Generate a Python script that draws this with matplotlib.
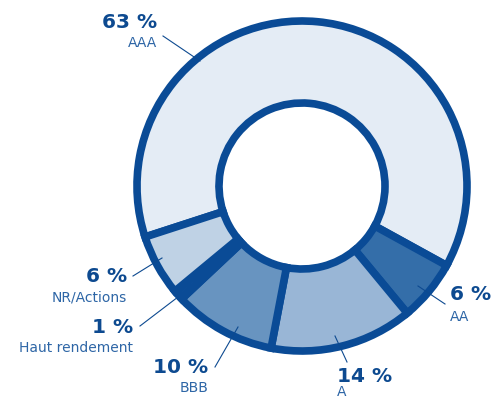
import matplotlib
matplotlib.use("Agg")
import matplotlib.pyplot as plt

plt.rcParams['font.family'] = ['DejaVu Sans']

categories = ['AAA', 'AA', 'A', 'BBB', 'Haut rendement', 'NR/Actions']
shares = [63, 6, 14, 10, 1, 6]
pct_labels = ['63 %', '6 %', '14 %', '10 %', '1 %', '6 %']
slice_colors = ['#e4ecf5', '#346ea9', '#99b6d6', '#6894c0', '#0b4c97', '#bfd2e5']

edge = '#0a4b96'
txt_dark = '#0d4a90'
txt_light = '#2e66a6'

fig = plt.figure(figsize=(4.92, 4.02), dpi=100)
ax = fig.add_axes([0, 0, 1, 1])

cx, cy, r_out, r_in = 302, -187, 165, 83
ax.pie(shares, colors=slice_colors, startangle=198, counterclock=False,
       center=(cx, cy), radius=r_out, frame=True,
       wedgeprops=dict(width=r_out - r_in, edgecolor=edge, linewidth=5.5, joinstyle='miter'))
ax.set_xlim(0, 492)
ax.set_ylim(-402, 0)
ax.set_aspect('equal')
ax.axis('off')

# label positions: (anchor x, pct y, name y, align, leader line)
label_pos = [
    (157, -23, -43, 'right', [(163, -37), (200, -62)]),
    (450, -295, -317, 'left', [(418, -287), (445, -305)]),
    (337, -377, -392, 'left', [(335, -337), (347, -363)]),
    (208, -368, -388, 'right', [(215, -368), (238, -328)]),
    (133, -328, -348, 'right', [(140, -327), (178, -298)]),
    (127, -277, -298, 'right', [(133, -277), (162, -259)]),
]

for name, pct, (x, ypct, yname, ha, line) in zip(categories, pct_labels, label_pos):
    ax.text(x, ypct, pct, ha=ha, va='center', fontsize=14.5, fontweight='bold', color=txt_dark)
    ax.text(x, yname, name, ha=ha, va='center', fontsize=10, color=txt_light)
    (x0, y0), (x1, y1) = line
    ax.plot([x0, x1], [y0, y1], color=txt_dark, linewidth=0.8)

fig.savefig('out.png', dpi=100)
plt.close(fig)
